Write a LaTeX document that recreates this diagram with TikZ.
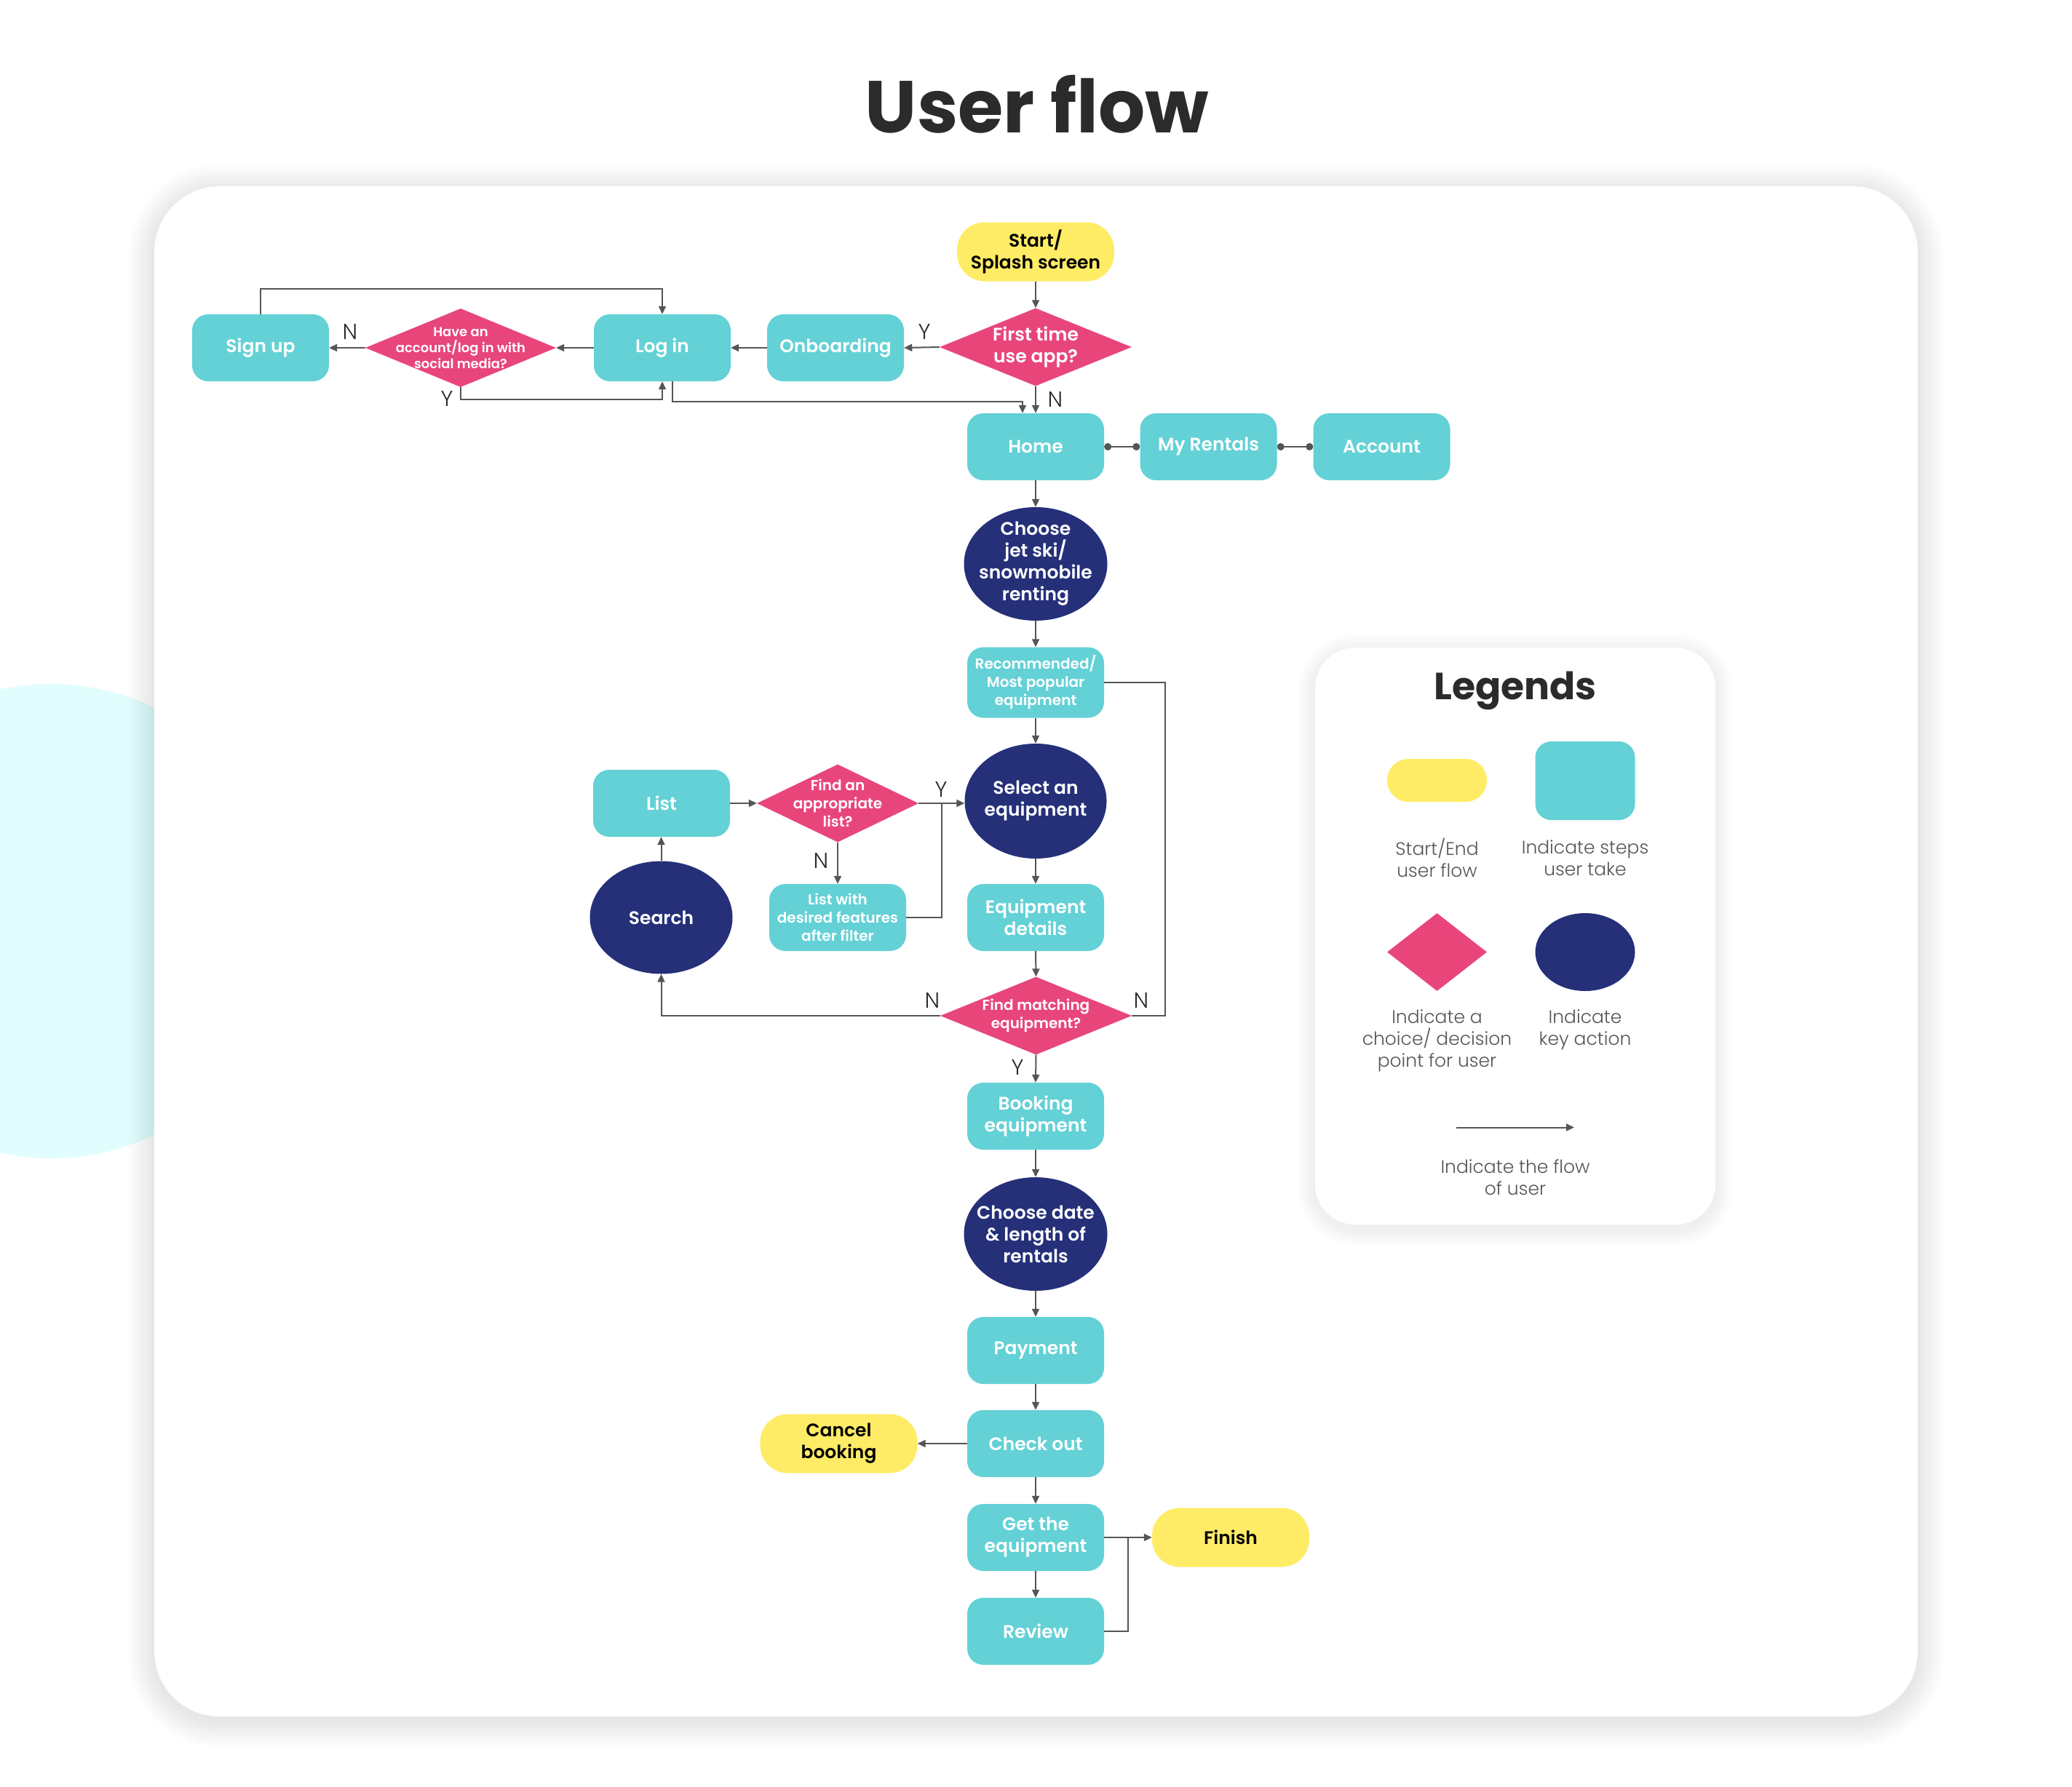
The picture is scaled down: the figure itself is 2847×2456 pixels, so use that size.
\documentclass[tikz,border=0pt]{standalone}
\usepackage{fontspec}
\setmainfont{Poppins}
\IfFontExistsTF{Poppins SemiBold}{\newfontfamily\nodefam{Poppins SemiBold}}{\newcommand\nodefam{\bfseries}}
\IfFontExistsTF{Poppins Light}{\newfontfamily\lightfam{Poppins Light}}{\newcommand\lightfam{\normalfont}}
\usetikzlibrary{shapes.geometric,arrows.meta,calc}
\definecolor{cyanc}{RGB}{99,209,214}
\definecolor{pinkc}{RGB}{232,70,123}
\definecolor{navyc}{RGB}{37,48,121}
\definecolor{yellowc}{RGB}{255,236,102}
\definecolor{linec}{RGB}{85,85,85}
\definecolor{titlec}{RGB}{43,43,43}
\definecolor{bgcirc}{RGB}{226,253,253}
\definecolor{legtext}{RGB}{85,85,85}
\begin{document}
\begin{tikzpicture}[x=1pt,y=-1pt,
  mainfont/.style={font=\nodefam\fontsize{25}{30}\selectfont},
  smallfont/.style={font=\nodefam\fontsize{20}{25}\selectfont},
  stepbox/.style={rectangle, rounded corners=22pt, fill=cyanc, minimum width=188pt, minimum height=92pt, inner sep=0pt, text=white, mainfont, align=center},
  termbox/.style={rectangle, rounded corners=38pt, fill=yellowc, minimum width=216pt, minimum height=81pt, inner sep=0pt, text=black, mainfont, align=center},
  keyell/.style={ellipse, fill=navyc, minimum width=197pt, minimum height=156pt, inner sep=0pt},
  decis/.style={diamond, fill=pinkc, inner sep=0pt},
  dtext/.style={text=white, mainfont, align=center, inner sep=0pt},
  yn/.style={text=titlec, font=\lightfam\fontsize{30}{30}\selectfont, inner sep=0pt},
  legt/.style={text=legtext, font=\lightfam\fontsize{25}{30}\selectfont, align=center, inner sep=0pt},
  arr/.style={draw=linec, line width=2pt, -{Triangle[length=11pt,width=10pt]}},
  plain/.style={draw=linec, line width=2pt},
  dotline/.style={draw=linec, line width=2pt, {Circle[length=10pt]}-{Circle[length=10pt]}}
]
\useasboundingbox (0,0) rectangle (2847,2456);
\clip (0,0) rectangle (2847,2456);
\fill[white] (0,0) rectangle (2847,2456);
% background circle
\fill[bgcirc] (70,1266) circle (326pt);
% card shadow
\foreach \s in {3,6,...,36}{
  \pgfmathsetmacro\rr{90+\s}
  \fill[black, opacity=0.007, rounded corners=\rr pt] (212-\s,256-\s+6) rectangle (2635+\s,2359+\s+6);
}
\fill[white, rounded corners=90pt] (212,256) rectangle (2635,2359);
% title
\node[font=\bfseries\fontsize{101}{110}\selectfont, text=titlec, anchor=base, inner sep=0pt] (title) at (1425,183) {User flow};

% nodes
\node[termbox] (start) at (1423,346) {Start/\\Splash screen};
\node[decis, minimum width=264pt, minimum height=107pt] (dfirst) at (1423,477) {};
\node[dtext] (dfirstt) at (dfirst) {First time\\use app?};
\node[stepbox] (onboard) at (1148,478) {Onboarding};
\node[stepbox] (login) at (910,478) {Log in};
\node[decis, minimum width=262pt, minimum height=108pt] (dacc) at (633,478) {};
\node[dtext, font=\nodefam\fontsize{18}{22}\selectfont] (dacct) at (dacc) {Have an\\account/log in with\\social media?};
\node[stepbox] (signup) at (358,478) {Sign up};
\node[stepbox] (home) at (1423,614) {Home};
\node[stepbox] (rentals) at (1660.5,614) {My Rentals};
\node[stepbox] (account) at (1898.5,614) {Account};
\node[keyell] (choose) at (1423,775) {};
\node[dtext] (chooset) at (choose) {Choose\\jet ski/\\snowmobile\\renting};
\node[stepbox, minimum height=97pt, smallfont] (recom) at (1423,938) {Recommended/\\Most popular\\equipment};
\node[keyell, minimum width=195pt, minimum height=158pt] (select) at (1423,1101) {};
\node[dtext] (selectt) at (select) {Select an\\equipment};
\node[stepbox] (list) at (909,1104) {List};
\node[decis, minimum width=222pt, minimum height=107pt] (dfind) at (1151,1104) {};
\node[dtext, smallfont] (dfindt) at (dfind) {Find an\\appropriate\\list?};
\node[stepbox, smallfont] (listw) at (1151,1261) {List with\\desired features\\after filter};
\node[stepbox] (eqdet) at (1423,1261) {Equipment\\details};
\node[keyell, minimum width=196pt, minimum height=155pt] (search) at (908.5,1261) {};
\node[dtext] (searcht) at (search) {Search};
\node[decis, minimum width=263pt, minimum height=107pt] (dmatch) at (1423.5,1396) {};
\node[dtext, smallfont] (dmatcht) at (dmatch) {Find matching\\equipment?};
\node[stepbox] (booking) at (1423,1534) {Booking\\equipment};
\node[keyell] (cdate) at (1423,1696) {};
\node[dtext] (cdatet) at (cdate) {Choose date\\\& length of\\rentals};
\node[stepbox] (payment) at (1423,1856) {Payment};
\node[stepbox] (checkout) at (1423,1984) {Check out};
\node[termbox] (cancel) at (1152.5,1984) {Cancel\\booking};
\node[stepbox] (getq) at (1423,2113) {Get the\\equipment};
\node[termbox] (finish) at (1691,2113) {Finish};
\node[stepbox] (review) at (1423,2242) {Review};

% connectors
\draw[arr] (start.south) -- (dfirst.north);
\draw[arr] (dfirst.west) -- (onboard.east);
\draw[arr] (onboard.west) -- (login.east);
\draw[arr] (login.west) -- (dacc.east);
\draw[arr] (dacc.west) -- (signup.east);
\coordinate (j1) at (910,397);
\draw[arr] (signup.north) |- (j1) -- (login.north);
\coordinate (j2) at (910,549);
\draw[arr] (dacc.south) |- (j2) -- (login.south);
\coordinate (j3) at (1405,552);
\draw[arr] ([xshift=14pt]login.south) |- (j3) -- ([xshift=-18pt]home.north);
\draw[arr] (dfirst.south) -- (home.north);
\draw[dotline] (home.east) -- (rentals.west);
\draw[dotline] (rentals.east) -- (account.west);
\draw[arr] (home.south) -- (choose.north);
\draw[arr] (choose.south) -- (recom.north);
\draw[arr] (recom.south) -- (select.north);
\draw[arr] (select.south) -- (eqdet.north);
\draw[arr] (eqdet.south) -- (dmatch.north);
\draw[arr] (list.east) -- (dfind.west);
\draw[arr] (dfind.east) -- (dfind.east -| select.west);
\coordinate (j4) at (1294,1104);
\draw[plain] (listw.east) -| (j4);
\draw[arr] (dfind.south) -- (dfind.south |- listw.north);
\draw[arr] (search.north) -- (search.north |- list.south);
\draw[arr] (dmatch.west) -| (search.south);
\coordinate (j5) at (1601,1396);
\draw[plain] (dmatch.east) -- (j5) |- (recom.east);
\draw[arr] (dmatch.south) -- (booking.north);
\draw[arr] (booking.south) -- (cdate.north);
\draw[arr] (cdate.south) -- (payment.north);
\draw[arr] (payment.south) -- (checkout.north);
\draw[arr] (checkout.south) -- (getq.north);
\draw[arr] (getq.south) -- (review.north);
\draw[arr] (checkout.west) -- (cancel.east);
\draw[arr] (getq.east) -- (finish.west);
\coordinate (j6) at (1550,2113);
\draw[plain] (review.east) -| (j6);

% Y/N labels
\node[yn] (y1) at (1270,456) {Y};
\node[yn] (n1) at (481,456) {N};
\node[yn] (y2) at (614,548) {Y};
\node[yn] (n2) at (1450,549) {N};
\node[yn] (y3) at (1293,1085) {Y};
\node[yn] (n3) at (1128,1183) {N};
\node[yn] (n4) at (1281,1375) {N};
\node[yn] (n5) at (1568,1375) {N};
\node[yn] (y4) at (1398,1467) {Y};

% legend card
\foreach \s in {3,6,...,24}{
  \pgfmathsetmacro\rr{55+\s}
  \fill[black, opacity=0.007, rounded corners=\rr pt] (1807-\s,890-\s+5) rectangle (2357+\s,1683+\s+5);
}
\fill[white, rounded corners=55pt] (1807,890) rectangle (2357,1683);
\node[font=\bfseries\fontsize{52}{60}\selectfont, text=titlec, anchor=base, inner sep=0pt] (legtitle) at (2082,961) {Legends};
\node[rectangle, rounded corners=29pt, fill=yellowc, minimum width=137pt, minimum height=59pt] (lg1) at (1974.5,1072.5) {};
\node[stepbox, minimum width=137pt, minimum height=108pt] (lg2) at (2178,1073) {};
\node[decis, minimum width=137pt, minimum height=107pt] (lg3) at (1974.5,1308.5) {};
\node[keyell, minimum width=137pt, minimum height=107pt] (lg4) at (2178,1308.5) {};
\node[legt] (lt1) at (1974.5,1179) {Start/End\\user flow};
\node[legt] (lt2) at (2178,1179) {Indicate steps\\user take};
\node[legt] (lt3) at (1974.5,1430) {Indicate a\\choice/ decision\\point for user};
\node[legt] (lt4) at (2178,1415) {Indicate\\key action};
\coordinate (la) at (2001,1549.5);
\coordinate (lb) at (2163,1549.5);
\draw[arr] (la) -- (lb);
\node[legt] (lt5) at (2082,1618) {Indicate the flow\\of user};
\end{tikzpicture}
\end{document}
